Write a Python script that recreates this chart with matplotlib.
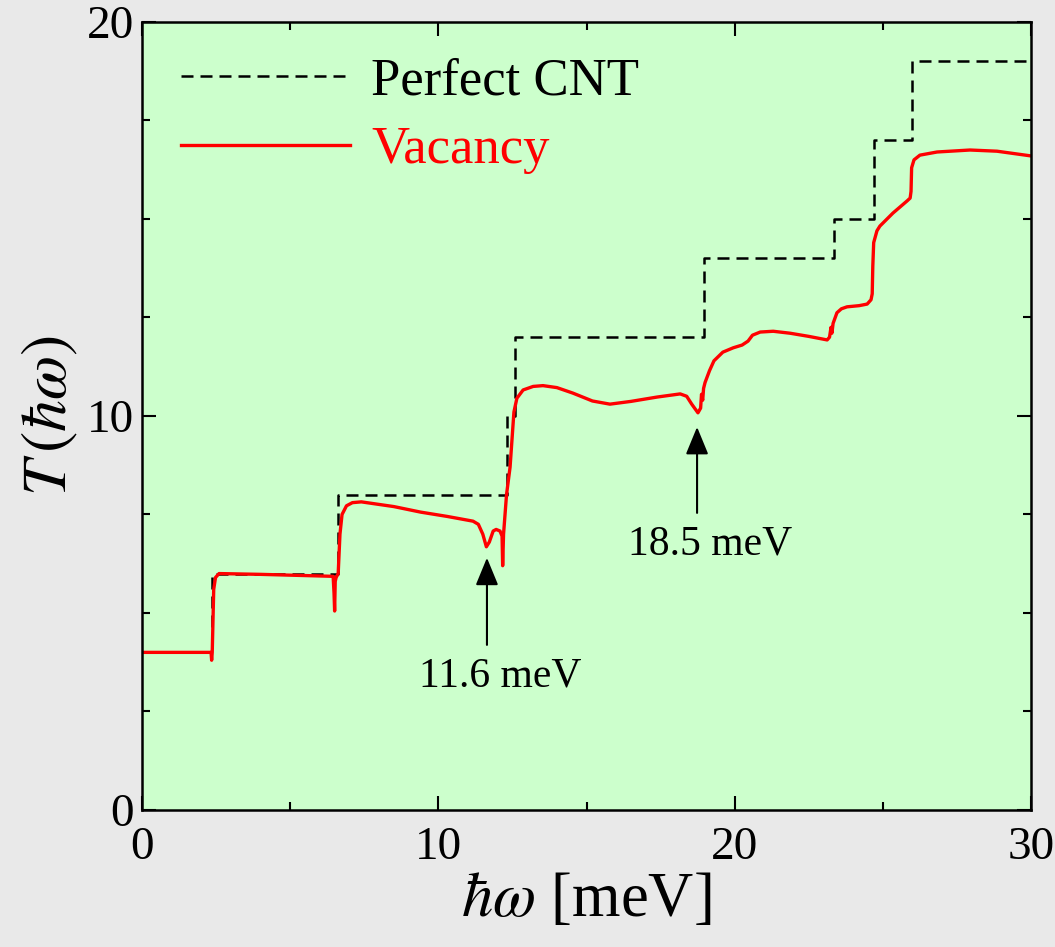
import numpy as np
import matplotlib
matplotlib.use("Agg")
import matplotlib.pyplot as plt
from matplotlib.ticker import MultipleLocator

plt.rcParams['font.family'] = ['Liberation Serif', 'DejaVu Serif']
plt.rcParams['mathtext.fontset'] = 'stix'

# perfect CNT: step levels (steps-post)
perfect_x = [0, 2.36, 6.6, 12.32, 12.57, 18.97, 23.35, 24.70, 25.98, 30]
perfect_y = [4, 6, 8, 10, 12, 14, 15, 17, 19, 19]

# vacancy curve
vac_x = [0, 2.33, 2.35, 2.37, 2.42, 2.48, 2.6, 4.0, 6.45, 6.48, 6.5, 6.52, 6.55,
         6.62, 6.68, 6.75, 6.9, 7.1, 7.4, 8.5, 9.4, 10.3, 11.17, 11.35, 11.5,
         11.62, 11.72, 11.85, 11.95, 12.08, 12.15, 12.17, 12.2, 12.3, 12.42,
         12.55, 12.65, 12.86, 13.2, 13.53, 14.0, 14.54, 15.2, 15.79, 16.5,
         17.38, 18.16, 18.38, 18.55, 18.76, 18.85, 18.88, 18.92, 18.95, 19.0,
         19.15, 19.3, 19.6, 19.95, 20.25, 20.45, 20.6, 20.86, 21.3, 21.87,
         22.5, 23.12, 23.2, 23.25, 23.28, 23.32, 23.45, 23.6, 23.79, 24.2,
         24.47, 24.6, 24.64, 24.66, 24.69, 24.8, 24.9, 25.34, 25.82, 25.92,
         25.95, 25.97, 26.05, 26.25, 26.83, 27.94, 28.85, 30.0]
vac_y = [4.0, 4.0, 3.8, 4.0, 5.6, 5.9, 6.0, 5.98, 5.93, 5.5, 5.05, 5.8, 5.9,
         6.0, 7.0, 7.5, 7.72, 7.8, 7.82, 7.7, 7.56, 7.45, 7.33, 7.25, 7.0,
         6.68, 6.8, 7.08, 7.12, 7.08, 6.95, 6.2, 7.0, 8.0, 8.7,
         10.1, 10.45, 10.66, 10.75, 10.77, 10.72, 10.58, 10.38, 10.3, 10.37,
         10.48, 10.56, 10.5, 10.3, 10.08, 10.2, 10.55, 10.4, 10.7, 10.85,
         11.15, 11.4, 11.62, 11.73, 11.8, 11.9, 12.05, 12.13, 12.15, 12.1,
         12.02, 11.93, 12.0, 12.25, 12.1, 12.35, 12.62, 12.72, 12.77, 12.8,
         12.84, 12.95, 13.1, 13.8, 14.4, 14.7, 14.82, 15.15, 15.46, 15.53,
         15.7, 16.3, 16.5, 16.62, 16.7, 16.75, 16.72, 16.6]

# annotations: (label, x, arrow tip y, arrow tail y)
notes = [("11.6 meV", 11.64, 6.4, 4.19),
         ("18.5 meV", 18.73, 9.72, 7.54)]

fig = plt.figure(figsize=(10.55, 9.47), dpi=100, facecolor='#e9e9e9')
ax = fig.add_axes([0.1346, 0.1447, 0.8427, 0.8321])
ax.set_facecolor('#ccffcc')

ax.plot(perfect_x, perfect_y, drawstyle='steps-post', color='black', lw=1.8,
        dashes=(4.8, 2.8), label='Perfect CNT')
ax.plot(vac_x, vac_y, color='red', lw=2.4, label='Vacancy')

for label, x, tip, tail in notes:
    ax.annotate('', xy=(x, tip), xytext=(x, tail),
                arrowprops=dict(arrowstyle='-|>,head_width=0.7,head_length=1.7',
                                color='black', lw=1.5, shrinkA=0, shrinkB=0))
    ax.text(x + 0.45, tail - 0.3, label, ha='center', va='top', fontsize=30)

ax.set_xlim(0, 30)
ax.set_ylim(0, 20)
ax.xaxis.set_major_locator(MultipleLocator(10))
ax.xaxis.set_minor_locator(MultipleLocator(5))
ax.yaxis.set_major_locator(MultipleLocator(10))
ax.yaxis.set_minor_locator(MultipleLocator(2.5))
ax.tick_params(which='both', direction='in', top=True, right=True, width=1.5,
               labelsize=34)
ax.tick_params(which='major', length=10)
ax.tick_params(which='minor', length=6)
ax.tick_params(axis='x', pad=12)
ax.tick_params(axis='y', pad=6)
for s in ax.spines.values():
    s.set_linewidth(1.8)

ax.set_xlabel(r'$\hbar\omega$ [meV]', fontsize=45, labelpad=2)
ax.set_ylabel(r'$T\,(\hbar\omega)$', fontsize=46, labelpad=4)

leg = ax.legend(loc='upper left', frameon=False, fontsize=38, handlelength=3.2,
                handletextpad=0.4, labelspacing=0.4,
                bbox_to_anchor=(0.02, 0.982), borderaxespad=0)
for t, c in zip(leg.get_texts(), ['black', 'red']):
    t.set_color(c)

fig.savefig('out.png', dpi=100, facecolor=fig.get_facecolor())
